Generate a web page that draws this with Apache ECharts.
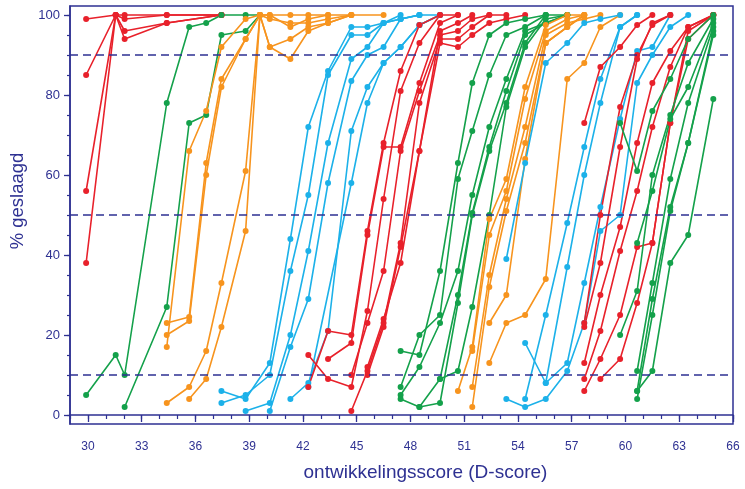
<!DOCTYPE html>
<html><head><meta charset="utf-8">
<script src="https://cdn.jsdelivr.net/npm/echarts@6/dist/echarts.min.js"></script>
<style>html,body{margin:0;padding:0;background:#fff}#c{width:745px;height:489px}</style>
</head><body><div id="c"></div>
<script>
const xTickLabels = [30,33,36,39,42,45,48,51,54,57,60,63,66];
const xMinorTicks = [29,30,31,32,33,34,35,36,37,38,39,40,41,42,43,44,45,46,47,48,49,50,51,52,53,54,55,56,57,58,59,60,61,62,63,64,65,66];
const yTickLabels = [0,20,40,60,80,100];
const yMinorTicks = [0,5,10,15,20,25,30,35,40,45,50,55,60,65,70,75,80,85,90,95,100];
const refLines = [10,50,90];

const red1 = [
 [[29.9,99],[31.55,100],[32.05,100],[34.4,100],[37.45,100]],
 [[29.9,85],[31.55,100],[32.05,99],[34.4,100],[37.45,100]],
 [[29.9,56],[31.55,100],[32.05,96],[34.4,98],[37.45,100]],
 [[29.9,38],[31.55,100],[32.05,94],[34.4,98],[37.45,100]]
];
const green1 = [
 [[29.9,5],[31.55,15],[32.05,10],[34.4,78],[35.65,97],[36.6,98],[37.45,100],[38.8,100],[39.6,100]],
 [[32.05,2],[34.4,27],[35.65,73],[36.6,75],[37.45,95],[38.8,96],[39.6,100]]
];
const orange1 = [
 [[34.4,17],[35.65,66],[36.6,76],[37.45,92],[38.8,99],[39.6,100],[40.15,100],[41.3,100],[42.3,100],[43.4,100],[44.7,100],[46.5,100]],
 [[34.4,23],[35.65,24.5],[36.6,63],[37.45,84],[38.8,94],[39.6,100],[40.15,99],[41.3,98],[42.3,98],[43.4,99],[44.7,100]],
 [[34.4,20],[35.65,23.5],[36.6,60],[37.45,82],[38.8,94],[39.6,100],[40.15,100],[41.3,97],[42.3,99],[43.4,100]],
 [[34.4,3],[35.65,7],[36.6,16],[37.45,33],[38.8,61],[39.6,100],[40.15,92],[41.3,94],[42.3,97],[43.4,98],[44.7,100]],
 [[35.65,4],[36.6,9],[37.45,22],[38.8,46],[39.6,100],[40.15,92],[41.3,89],[42.3,96],[43.4,98],[44.7,100]]
];
const blue1 = [
 [[37.45,6],[38.8,4],[40.15,13],[41.3,44],[42.3,72],[43.4,86],[44.7,97],[45.6,97],[46.5,98],[47.45,99],[48.5,100],[49.65,100]],
 [[37.45,3],[38.8,5],[40.15,10],[41.3,36],[42.3,55],[43.4,85],[44.7,95],[45.6,95],[46.5,98],[47.45,100]],
 [[38.8,1],[40.15,3],[41.3,20],[42.3,41],[43.4,68],[44.7,89],[45.6,92],[46.5,98],[47.45,99],[48.5,100]],
 [[40.15,1],[41.3,17],[42.3,29],[43.4,58],[44.7,83.5],[45.6,90],[46.5,92],[47.45,99],[48.5,100]],
 [[41.3,4],[42.3,8],[43.4,21],[44.7,71],[45.6,82],[46.5,88],[47.45,92],[48.5,97.5],[49.65,100]],
 [[42.3,7],[44.7,58],[45.6,78],[46.5,88],[47.45,92],[48.5,97.5],[49.65,100]]
];
const red2 = [
 [[42.3,15],[43.4,9],[44.7,7],[45.6,26],[46.5,54],[47.45,81],[48.5,93],[49.65,100],[50.65,100]],
 [[42.3,7],[43.4,21],[44.7,20],[45.6,46],[46.5,68],[47.45,86],[48.5,97.5],[49.65,100]],
 [[43.4,14],[44.7,18],[45.6,45],[46.5,67],[47.45,67],[48.5,83],[49.65,98],[50.65,100]],
 [[44.7,10],[45.6,23],[46.5,36],[47.45,66],[48.5,81],[49.65,95],[50.65,96],[51.45,99],[52.4,100]],
 [[44.7,1],[45.6,11],[46.5,23],[47.45,43],[48.5,78],[49.65,94],[50.65,94],[51.45,97],[52.4,100],[53.35,100]],
 [[45.6,10],[46.5,22],[47.45,42],[48.5,66],[49.65,93],[50.65,92],[51.45,95],[52.4,98],[53.35,99],[54.4,100]],
 [[45.6,12],[46.5,24],[47.45,38],[48.5,66],[49.65,96],[50.65,98],[51.45,100]]
];
const green2 = [
 [[47.45,16],[48.5,15],[49.65,36],[50.65,63],[51.45,83],[52.4,95],[53.35,98],[54.4,99],[55.55,100],[56.75,100]],
 [[47.45,7],[48.5,20],[49.65,25],[50.65,59],[51.45,71],[52.4,85],[53.35,95],[54.4,97],[55.55,100]],
 [[47.45,5],[48.5,12],[49.65,23],[50.65,36],[51.45,55],[52.4,72],[53.35,84],[54.4,96],[55.55,98],[56.75,100]],
 [[47.45,4],[48.5,2],[49.65,9],[50.65,30],[51.45,50.5],[52.4,67],[53.35,81],[54.4,95],[55.55,98],[56.75,100]],
 [[48.5,2],[49.65,3],[50.65,28],[51.45,50],[52.4,66],[53.35,78],[54.4,93],[55.55,100]],
 [[49.65,9],[50.65,11],[51.45,27],[52.4,50],[53.35,77],[54.4,92],[55.55,99],[56.75,100]]
];
const orange2 = [
 [[50.65,6],[51.45,17],[52.4,49],[53.35,59],[54.4,82],[55.55,97.5],[56.75,100],[57.7,100]],
 [[51.45,16],[52.4,45],[53.35,56],[54.4,79],[55.55,96],[56.75,99],[57.7,100]],
 [[51.45,7],[52.4,35],[53.35,54],[54.4,72],[55.55,95],[56.75,98],[57.7,99],[58.6,100]],
 [[51.45,2],[52.4,32],[53.35,51],[54.4,68],[55.55,93],[56.75,97],[57.7,100]],
 [[52.4,23],[53.35,30],[54.4,64],[55.55,93],[56.75,97],[57.7,100]],
 [[52.4,13],[53.35,23],[54.4,25],[55.55,34],[56.75,84],[57.7,88],[58.6,97],[59.7,100]]
];
const blue2 = [
 [[53.35,39],[54.4,63],[55.55,88],[56.75,93],[57.7,98],[58.6,99],[59.7,100]],
 [[54.4,4],[55.55,25],[56.75,48],[57.7,67],[58.6,84],[59.7,97],[60.65,100]],
 [[54.4,18],[55.55,8],[56.75,13],[57.7,33],[58.6,52],[59.7,74],[60.65,91],[61.5,92],[62.5,100]],
 [[53.35,4],[54.4,2],[55.55,4],[56.75,11],[57.7,23],[58.6,46],[59.7,50],[60.65,83],[61.5,90],[62.5,97],[63.5,100]],
 [[55.55,8],[56.75,37],[57.7,60],[58.6,78],[59.7,97],[60.65,100]]
];
const red3 = [
 [[57.7,73],[58.6,87],[59.7,92],[60.65,97.5],[61.5,100]],
 [[57.7,23],[58.6,50],[59.7,77],[60.65,90],[61.5,97.5],[62.5,100]],
 [[57.7,22],[58.6,38],[59.7,67],[60.65,89],[61.5,98],[62.5,100]],
 [[57.7,13],[58.6,30],[59.7,47],[60.65,68],[61.5,83],[62.5,91],[63.5,97],[64.9,100]],
 [[57.7,9],[58.6,21],[59.7,41],[60.65,56],[61.5,72],[62.5,87],[63.5,97],[64.9,100]],
 [[57.7,6],[58.6,14],[59.7,25],[60.65,42],[61.5,43],[62.5,73],[63.5,94],[64.9,100]],
 [[58.6,9],[59.7,14],[60.65,28],[61.5,43],[62.5,73],[63.5,96],[64.9,100]]
];
const green3 = [
 [[59.7,73],[60.65,61],[61.5,76],[62.5,84],[63.5,94],[64.9,100]],
 [[59.7,20],[60.65,31],[61.5,60],[62.5,75],[63.5,88],[64.9,99]],
 [[60.65,43],[61.5,56],[62.5,74],[63.5,82],[64.9,98]],
 [[60.65,11],[61.5,33],[62.5,59],[63.5,78],[64.9,97]],
 [[60.65,6],[61.5,29],[62.5,52],[63.5,68],[64.9,96]],
 [[60.65,4],[61.5,25],[62.5,51],[63.5,68],[64.9,95]],
 [[60.65,6],[61.5,11],[62.5,38],[63.5,45],[64.9,79]]
];

const RED='#e8212b', GREEN='#14a14b', ORANGE='#f7941e', BLUE='#1cb1e9', NAVY='#2e3192';
const groups = [[red1,RED],[green1,GREEN],[orange1,ORANGE],[blue1,BLUE],[red2,RED],[green2,GREEN],[orange2,ORANGE],[blue2,BLUE],[red3,RED],[green3,GREEN]];
const series = [];
groups.forEach(([lines,color])=>{
  lines.forEach(d=>{
    series.push({type:'line',data:d,xAxisIndex:0,yAxisIndex:0,symbol:'circle',symbolSize:6,
      itemStyle:{color:color},lineStyle:{color:color,width:1.6},silent:true});
  });
});
series.push({type:'line',data:[],xAxisIndex:0,yAxisIndex:0,
  markLine:{silent:true,symbol:['none','none'],label:{show:false},
    lineStyle:{color:NAVY,width:1.5,type:[8,5]},
    data:refLines.map(v=>({yAxis:v}))}});

const font = 'Liberation Sans, Arial, sans-serif';
const chart = echarts.init(document.getElementById('c'));
chart.setOption({
  animation:false,
  backgroundColor:'#fff',
  grid:{left:69,right:12,top:6,bottom:65,show:true,borderColor:NAVY,borderWidth:1.5,backgroundColor:'transparent'},
  xAxis:[{type:'value',min:29,max:66,position:'bottom',
    name:'ontwikkelingsscore (D-score)',nameLocation:'middle',nameGap:39,
    nameTextStyle:{color:NAVY,fontSize:19,fontFamily:font,padding:[0,0,0,48]},
    axisLine:{lineStyle:{color:NAVY,width:1.5}},
    axisTick:{show:true,inside:false,length:7,lineStyle:{color:NAVY,width:1.3},customValues:xTickLabels},
    axisLabel:{color:NAVY,fontSize:12,fontFamily:font,margin:17,customValues:xTickLabels},
    splitLine:{show:false}},
   {type:'value',min:29,max:66,position:'bottom',
    axisLine:{show:false},
    axisTick:{show:true,length:4,lineStyle:{color:NAVY,width:1.2},customValues:xMinorTicks},
    axisLabel:{show:false},splitLine:{show:false}}],
  yAxis:[{type:'value',min:-2.25,max:102.25,position:'left',
    name:'% geslaagd',nameLocation:'middle',nameGap:43,
    nameTextStyle:{color:NAVY,fontSize:18.5,fontFamily:font,padding:[0,0,0,28]},
    axisLine:{show:true,lineStyle:{color:NAVY,width:1.5}},
    axisTick:{show:true,length:6,lineStyle:{color:NAVY,width:1.3},customValues:yTickLabels},
    axisLabel:{color:NAVY,fontSize:13,fontFamily:font,margin:10,customValues:yTickLabels},
    splitLine:{show:false}},
   {type:'value',min:-2.25,max:102.25,position:'left',
    axisLine:{show:false},
    axisTick:{show:true,length:3,lineStyle:{color:NAVY,width:1.2},customValues:yMinorTicks},
    axisLabel:{show:false},splitLine:{show:false}}],
  series:series
});
</script></body></html>
